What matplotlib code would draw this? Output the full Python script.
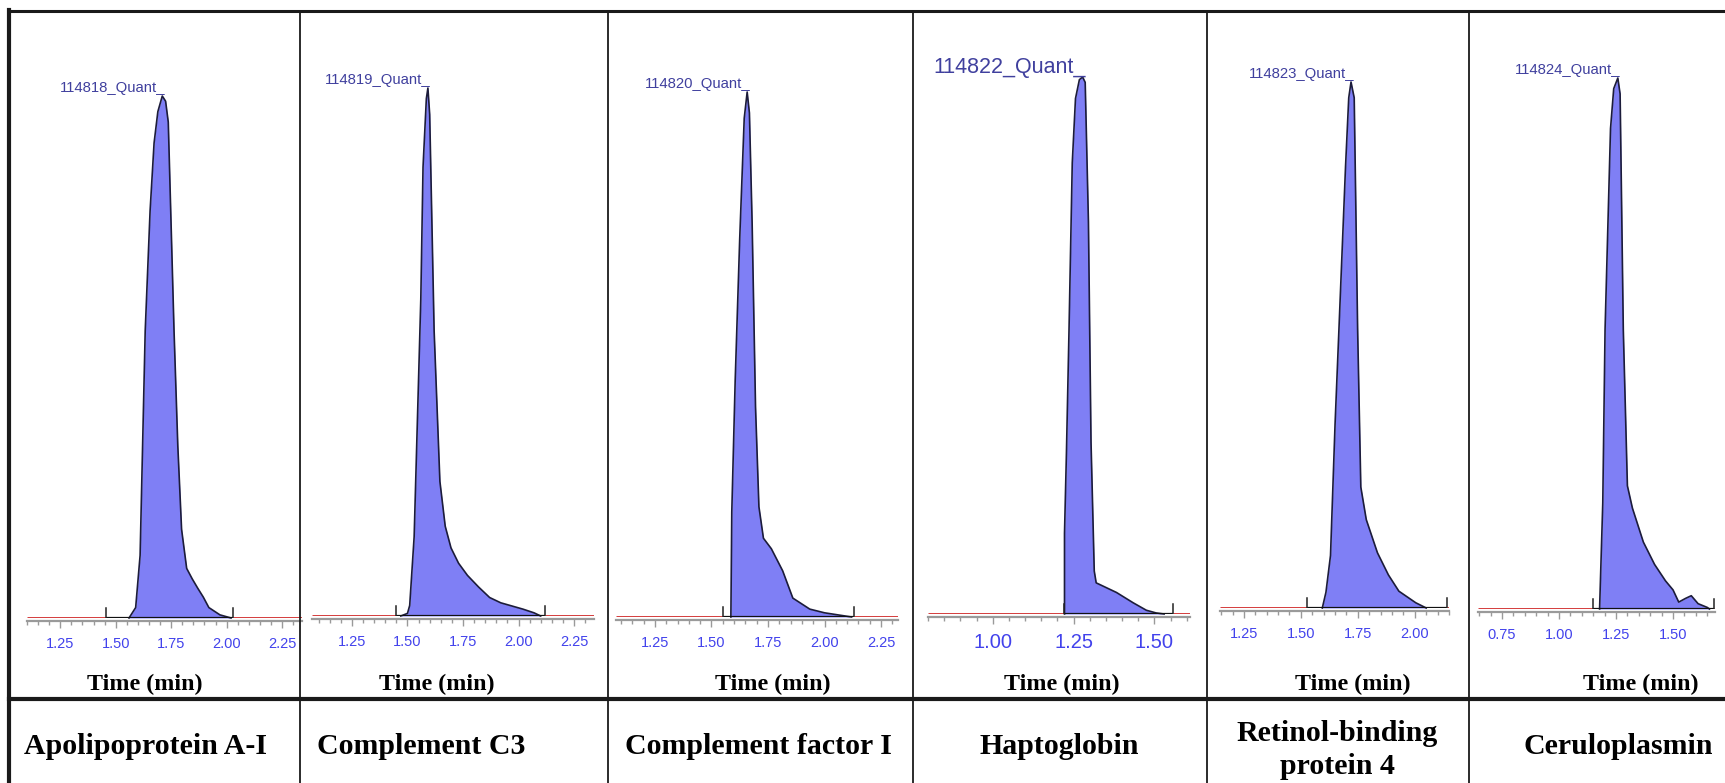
import matplotlib
matplotlib.use("Agg")
import matplotlib.pyplot as plt
from matplotlib.lines import Line2D
from matplotlib.ticker import MultipleLocator, FixedLocator

W, H = 1725, 783

# ---- data ----
proteins = ["Apolipoprotein A-I", "Complement C3", "Complement factor I",
            "Haptoglobin", "Retinol-binding\nprotein 4", "Ceruloplasmin"]
sample_ids = ["114818_Quant_", "114819_Quant_", "114820_Quant_",
              "114822_Quant_", "114823_Quant_", "114824_Quant_"]

# retention time (min) / relative intensity
t_apoa1 = [1.56, 1.59, 1.61, 1.633, 1.655, 1.673, 1.69, 1.71, 1.725, 1.737,
           1.75, 1.763, 1.78, 1.797, 1.82, 1.845, 1.87, 1.895, 1.92, 1.97, 2.02]
i_apoa1 = [0, 0.02, 0.12, 0.55, 0.78, 0.91, 0.97, 1.0, 0.99, 0.95,
           0.75, 0.55, 0.33, 0.17, 0.095, 0.075, 0.057, 0.04, 0.02, 0.006, 0]

t_c3 = [1.47, 1.50, 1.51, 1.53, 1.56, 1.57, 1.585, 1.592, 1.60, 1.62, 1.646,
        1.67, 1.696, 1.73, 1.77, 1.82, 1.87, 1.92, 1.97, 2.02, 2.07, 2.10]
i_c3 = [0, 0.005, 0.02, 0.15, 0.6, 0.85, 0.98, 1.0, 0.95, 0.54, 0.255,
        0.17, 0.129, 0.1, 0.077, 0.055, 0.035, 0.025, 0.019, 0.013, 0.006, 0]

t_cfi = [1.586, 1.59, 1.605, 1.625, 1.645, 1.658, 1.668, 1.68, 1.695, 1.71,
         1.73, 1.765, 1.815, 1.86, 1.935, 2.0, 2.06, 2.12]
i_cfi = [0, 0.2, 0.45, 0.72, 0.95, 1.0, 0.96, 0.75, 0.4, 0.21,
         0.15, 0.13, 0.088, 0.036, 0.015, 0.008, 0.004, 0]

t_hp = [1.222, 1.222, 1.228, 1.236, 1.246, 1.256, 1.268, 1.278, 1.286, 1.296,
        1.304, 1.314, 1.32, 1.383, 1.434, 1.475, 1.505, 1.53]
i_hp = [0, 0.15, 0.3, 0.53, 0.84, 0.96, 0.995, 1.0, 0.99, 0.73,
        0.32, 0.08, 0.058, 0.04, 0.021, 0.007, 0.002, 0]

t_rbp4 = [1.594, 1.61, 1.63, 1.65, 1.667, 1.696, 1.71, 1.72, 1.734, 1.749,
          1.763, 1.787, 1.836, 1.884, 1.93, 2.004, 2.05]
i_rbp4 = [0, 0.03, 0.1, 0.35, 0.53, 0.84, 0.97, 1.0, 0.97, 0.53,
          0.23, 0.168, 0.105, 0.063, 0.032, 0.01, 0]

t_cp = [1.178, 1.192, 1.202, 1.226, 1.24, 1.258, 1.268, 1.282, 1.3, 1.322,
        1.37, 1.419, 1.467, 1.50, 1.525, 1.555, 1.58, 1.61, 1.65, 1.66]
i_cp = [0, 0.2, 0.526, 0.905, 0.98, 1.0, 0.97, 0.526, 0.232, 0.19,
        0.126, 0.084, 0.053, 0.036, 0.013, 0.02, 0.025, 0.01, 0.003, 0]

times = [t_apoa1, t_c3, t_cfi, t_hp, t_rbp4, t_cp]
intens = [i_apoa1, i_c3, i_cfi, i_hp, i_rbp4, i_cp]

# integration window (start, end) in min
windows = [(1.457, 2.03), (1.45, 2.12), (1.55, 2.13),
           (1.222, 1.557), (1.526, 2.14), (1.15, 1.68)]
xlims = [(1.10, 2.34), (1.07, 2.34), (1.078, 2.325),
         (0.80, 1.61), (1.145, 2.15), (0.645, 1.684)]
major_ticks = [[1.25, 1.50, 1.75, 2.00, 2.25],
               [1.25, 1.50, 1.75, 2.00, 2.25],
               [1.25, 1.50, 1.75, 2.00, 2.25],
               [1.00, 1.25, 1.50],
               [1.25, 1.50, 1.75, 2.00],
               [0.75, 1.00, 1.25, 1.50]]

# ---- layout (pixels in the 1725x783 picture) ----
# left, right, baseline y, apex y
boxes = [(27, 302, 618, 96), (312, 594, 616, 88), (616, 898, 617, 92),
         (928, 1190, 614, 77), (1220, 1449, 608, 82), (1478, 1715, 609, 78)]
time_x = [145, 437, 773, 1062, 1353, 1641]
name_x = [145, 421, 758, 1059, 1337, 1618]
name_y = [747, 747, 747, 747, 750, 747]
dividers = [300, 608, 913, 1207, 1469]

fill_col = "#7f7ff5"
edge_col = "#1c1c3a"
tick_blue = "#4242ec"
id_blue = "#40409e"
red = "#d02c2c"

fig = plt.figure(figsize=(W / 100, H / 100), dpi=100)
fig.patch.set_facecolor("white")


def fx(x):
    return x / W


def fy(y):
    return 1 - y / H


for k in range(6):
    l, r, base, top = boxes[k]
    ax = fig.add_axes([fx(l), fy(base), (r - l) / W, (base - top) / H])
    ax.patch.set_alpha(0)
    x0, x1 = xlims[k]
    ax.set_xlim(x0, x1)
    ax.set_ylim(0, 1)
    hpx = base - top

    ax.fill_between(times[k], intens[k], color=fill_col, lw=0, zorder=2)
    ax.plot(times[k], intens[k], color=edge_col, lw=1.2, zorder=3, clip_on=False)

    s, e = windows[k]
    ax.plot([x0, s], [0, 0], color=red, lw=2.0, zorder=4, solid_capstyle="butt")
    ax.plot([s, e], [0, 0], color="#111111", lw=1.6, zorder=4, solid_capstyle="butt")
    ax.plot([e, x1], [0, 0], color=red, lw=2.0, zorder=4, solid_capstyle="butt")
    for m in (s, e):
        ax.plot([m, m], [0, 10 / hpx], color="#222222", lw=1.1, zorder=4)

    for side in ("left", "right", "top"):
        ax.spines[side].set_visible(False)
    ax.spines["bottom"].set_color("#9a9a9a")
    ax.spines["bottom"].set_linewidth(1.6)
    ax.spines["bottom"].set_position(("outward", 2))
    ax.set_yticks([])

    ax.xaxis.set_major_locator(FixedLocator(major_ticks[k]))
    ax.xaxis.set_minor_locator(MultipleLocator(0.05))
    big = (k == 3)
    ax.set_xticklabels(["%.2f" % v for v in major_ticks[k]])
    ax.tick_params(axis="x", which="major", direction="out", length=5,
                   width=1, color="#9a9a9a", pad=7,
                   labelsize=14.5 if big else 10.5, labelcolor=tick_blue)
    ax.tick_params(axis="x", which="minor", direction="out", length=3,
                   width=1, color="#9a9a9a")
    for lab in ax.get_xticklabels():
        lab.set_family(["Liberation Sans"] if big else ["Liberation Sans Narrow", "Liberation Sans"])

    apex = times[k][intens[k].index(max(intens[k]))]
    ax.annotate(sample_ids[k], xy=(apex, 1.0), xytext=(3, 4),
                textcoords="offset pixels", ha="right", va="baseline",
                fontsize=15.5 if big else 10.7, color=id_blue,
                family="Liberation Sans")

    fig.text(fx(time_x[k]), fy(684), "Time (min)", ha="center", va="center",
             fontsize=17.3, fontweight="bold", family="Liberation Serif")
    fig.text(fx(name_x[k]), fy(name_y[k]), proteins[k], ha="center", va="center",
             fontsize=21.5, fontweight="bold", family="Liberation Serif",
             linespacing=1.3)

# table grid
lines = [
    ([fx(9), fx(1725)], [fy(11), fy(11)], 2.2),
    ([fx(9), fx(9)], [fy(10), fy(783)], 3.0),
    ([fx(9), fx(1725)], [fy(699), fy(699)], 3.0),
]
for d in dividers:
    lines.append(([fx(d), fx(d)], [fy(11), fy(783)], 1.3))
for xs, ys, lw in lines:
    fig.add_artist(Line2D(xs, ys, color="#1a1a1a", lw=lw))

plt.savefig("out.png", dpi=100)
